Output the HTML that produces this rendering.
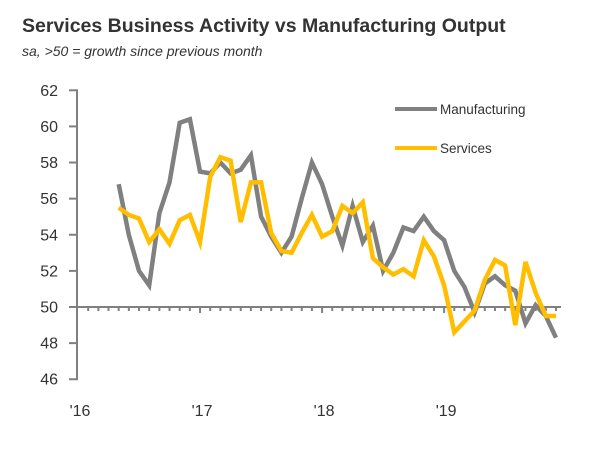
<!DOCTYPE html>
<html><head><meta charset="utf-8"><style>
body{margin:0;background:#fff;width:600px;height:444px;overflow:hidden;font-family:"Liberation Sans",sans-serif}
</style></head><body>
<svg width="600" height="444">
<text x="22" y="32" font-size="19.5" font-weight="bold" fill="#333">Services Business Activity vs Manufacturing Output</text>
<text x="22" y="56" font-size="14" font-style="italic" fill="#333">sa, &gt;50 = growth since previous month</text>
<g id="axes"></g>
<g id="series"></g>
<g>
<line x1="395" y1="109" x2="437" y2="109" stroke="#808080" stroke-width="4"/>
<text x="440" y="114" font-size="13.5" fill="#333">Manufacturing</text>
<line x1="395" y1="148" x2="437" y2="148" stroke="#FFBE00" stroke-width="4"/>
<text x="440" y="153" font-size="13.5" fill="#333">Services</text>
</g>
</svg>
<script>
const startMonth = 4;
const manufacturing = [56.8,54.0,52.0,51.2,55.2,56.9,60.2,60.4,57.5,57.4,58.0,57.4,57.6,58.4,55.0,53.9,53.0,53.9,56.0,58.0,56.8,55.0,53.4,55.6,53.6,54.5,52.0,53.0,54.4,54.2,55.0,54.2,53.7,52.0,51.1,49.7,51.3,51.7,51.2,50.9,49.1,50.1,49.5,48.3];
const services = [55.5,55.1,54.9,53.6,54.3,53.5,54.8,55.1,53.6,57.2,58.3,58.1,54.7,56.9,56.9,54.1,53.1,53.0,54.1,55.1,53.9,54.2,55.6,55.2,55.8,52.7,52.2,51.8,52.1,51.7,53.7,52.8,51.2,48.6,49.2,49.8,51.5,52.6,52.3,49.0,52.5,50.8,49.5,49.5];
const yTicks = [46,48,50,52,54,56,58,60,62];
const yearLabels = ["'16","'17","'18","'19"];
const NS="http://www.w3.org/2000/svg";
const x = m => 78 + m*10.17;
const y = v => 307 - (v-50)*18.06;
const axes=document.getElementById('axes'), ser=document.getElementById('series');
function mk(tag,attrs,parent){const e=document.createElementNS(NS,tag);for(const k in attrs)e.setAttribute(k,attrs[k]);parent.appendChild(e);return e;}
const yl=mk('line',{x1:77,y1:y(62),x2:77,y2:y(46),stroke:'#808080','stroke-width':2},axes);


yTicks.forEach(v=>{
  const t=mk('line',{x1:69,y1:y(v),x2:78,y2:y(v),stroke:'#808080','stroke-width':2},axes);
  
  
  const l=mk('text',{x:58,y:y(v)+5.5,'text-anchor':'end','font-size':16,fill:'#333'},axes);
  l.textContent=v;
  
  
});
const base=mk('line',{x1:77,y1:y(50),x2:x(startMonth+manufacturing.length-1)+5,y2:y(50),stroke:'#808080','stroke-width':2},axes);


for(let m=1;m<=startMonth+manufacturing.length-1;m++){
  const t=mk('line',{x1:x(m),y1:y(50),x2:x(m),y2:y(50)+(m%12===0?6:4),stroke:'#808080','stroke-width':2},axes);
  
  
}
yearLabels.forEach((s,i)=>{
  const l=mk('text',{x:x(i*12)+2,y:416,'text-anchor':'middle','font-size':16,fill:'#333'},axes);
  l.textContent=s;
  
  
});
function line(data,color,name){
  const pts=data.map((v,i)=>x(startMonth+i).toFixed(1)+','+y(v).toFixed(1)).join(' ');
  const p=mk('polyline',{points:pts,fill:'none',stroke:color,'stroke-width':4.5,'stroke-linejoin':'miter'},ser);
  
  
}
line(manufacturing,'#808080','manufacturing-line');
line(services,'#FFBE00','services-line');
</script>
</body></html>
